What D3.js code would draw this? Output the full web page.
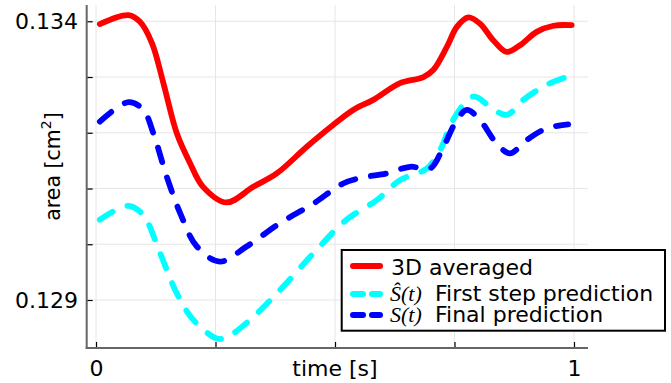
<!DOCTYPE html>
<html><head><meta charset="utf-8">
<script src="https://cdn.jsdelivr.net/npm/d3@7/dist/d3.min.js"></script>
<style>body{margin:0;background:#fff}svg{display:block}</style>
</head><body>
<script>
// ---- data ----
const redTime = [0.008,0.068,0.092,0.117,0.141,0.169,0.197,0.224,0.273,0.329,0.378,0.441,0.496,0.538,0.580,0.636,0.685,0.706,0.734,0.755,0.779,0.803,0.831,0.859,0.887,0.922,0.957,0.995];
const redArea = [0.13395,0.13411,0.13399,0.13361,0.13289,0.13199,0.13145,0.13103,0.13075,0.13103,0.13127,0.13175,0.13214,0.13241,0.13259,0.13289,0.13300,0.13313,0.13354,0.13390,0.13407,0.13396,0.13366,0.13345,0.13357,0.13381,0.13392,0.13393];

const cyanTime = [0.008,0.068,0.099,0.134,0.169,0.204,0.253,0.273,0.322,0.385,0.455,0.524,0.587,0.636,0.692,0.720,0.747,0.789,0.824,0.859,0.894,0.943,0.985];
const cyanArea = [0.13044,0.13069,0.13052,0.12984,0.12912,0.12864,0.12831,0.12833,0.12864,0.12918,0.12984,0.13044,0.13079,0.13115,0.13136,0.13169,0.13223,0.13265,0.13247,0.13232,0.13259,0.13286,0.13300];

const blueTime = [0.008,0.068,0.099,0.120,0.148,0.176,0.211,0.259,0.315,0.385,0.455,0.517,0.559,0.608,0.657,0.699,0.727,0.755,0.776,0.803,0.838,0.866,0.901,0.943,0.988];
const blueArea = [0.13220,0.13255,0.13241,0.13199,0.13121,0.13056,0.12996,0.12969,0.12996,0.13038,0.13073,0.13109,0.13120,0.13127,0.13139,0.13136,0.13175,0.13223,0.13241,0.13223,0.13181,0.13163,0.13187,0.13208,0.13215];

const xTicks = [0, 0.25, 0.5, 0.75, 1];
const xTickLabels = ["0", "", "", "", "1"];
const yTicks = [0.129, 0.130, 0.131, 0.132, 0.133, 0.134];
const yTickLabels = ["0.129", "", "", "", "", "0.134"];
const legendLabels = ["3D averaged", "First step prediction", "Final prediction"];
const legendSymbols = ["", "\u015C(t)", "S(t)"];

// ---- layout ----
const W = 671, H = 383;
const L = 86.7, R = 588, T = 5, B = 348;
const font = "'DejaVu Sans', sans-serif";

const x = d3.scaleLinear().domain([-0.0195, 1.0293]).range([L, R]);
const y = d3.scaleLinear().domain([0.128139, 0.134292]).range([B, T]);

const svg = d3.select("body").append("svg").attr("width", W).attr("height", H);

// grid
svg.append("g").selectAll("line").data(xTicks).join("line")
  .attr("x1", d => x(d)).attr("x2", d => x(d)).attr("y1", T).attr("y2", B)
  .attr("stroke", "#e6e6e6").attr("stroke-width", 1);
svg.append("g").selectAll("line").data(yTicks).join("line")
  .attr("x1", L).attr("x2", R).attr("y1", d => y(d)).attr("y2", d => y(d))
  .attr("stroke", "#e6e6e6").attr("stroke-width", 1);

// axes
const xAxis = d3.axisBottom(x).tickValues(xTicks).tickSizeInner(-6).tickSizeOuter(0)
  .tickFormat((d, i) => xTickLabels[i]);
const gx = svg.append("g").attr("transform", `translate(0,${B})`).call(xAxis);
gx.select(".domain").remove();
gx.selectAll(".tick line").attr("stroke", "#000").attr("stroke-width", 1.2);
gx.selectAll(".tick text").attr("font-family", font).attr("font-size", 22).attr("fill", "#000")
  .attr("dy", null).attr("y", 28);

const yAxis = d3.axisLeft(y).tickValues(yTicks).tickSizeInner(-6).tickSizeOuter(0)
  .tickFormat((d, i) => yTickLabels[i]);
const gy = svg.append("g").attr("transform", `translate(${L},0)`).call(yAxis);
gy.select(".domain").remove();
gy.selectAll(".tick line").attr("stroke", "#000").attr("stroke-width", 1.2);
gy.selectAll(".tick text").attr("font-family", font).attr("font-size", 22).attr("fill", "#000")
  .attr("x", 78 - L).attr("dy", "0.34em").attr("text-anchor", "end");

svg.append("line").attr("x1", L).attr("x2", L).attr("y1", T).attr("y2", B + 1)
  .attr("stroke", "#666").attr("stroke-width", 2);
svg.append("line").attr("x1", L - 1).attr("x2", R).attr("y1", B).attr("y2", B)
  .attr("stroke", "#666").attr("stroke-width", 2);

// axis labels
svg.append("text").attr("x", x(0.5)).attr("y", 376).attr("text-anchor", "middle")
  .attr("font-family", font).attr("font-size", 22).text("time [s]");
const yl = svg.append("text").attr("transform", `translate(59.5,166.5) rotate(-90)`)
  .attr("text-anchor", "middle").attr("font-family", font).attr("font-size", 20.5);
yl.append("tspan").text("area [cm");
yl.append("tspan").attr("font-size", 14).attr("dy", -9).text("2");
yl.append("tspan").attr("dy", 9).text("]");

// lines
const line = d3.line().x(d => x(d[0])).y(d => y(d[1])).curve(d3.curveCatmullRom.alpha(0.5));
const series = [
  {t: redTime, v: redArea, color: "#ff0000", dash: null},
  {t: cyanTime, v: cyanArea, color: "#00ffff", dash: "15,16"},
  {t: blueTime, v: blueArea, color: "#0000ff", dash: "15,16"}
];
series.forEach(s => {
  svg.append("path").datum(s.t.map((t, i) => [t, s.v[i]]))
    .attr("d", line).attr("fill", "none").attr("stroke", s.color)
    .attr("stroke-width", 5.8).attr("stroke-linecap", "round").attr("stroke-linejoin", "round")
    .attr("stroke-dasharray", s.dash);
});

// legend
const lg = svg.append("g");
lg.append("rect").attr("x", 341.7).attr("y", 250).attr("width", 323.3).attr("height", 80.7)
  .attr("fill", "#fff").attr("stroke", "#000").attr("stroke-width", 2);
const rows = [
  {ly: 266, ty: 274.5, color: "#ff0000", dash: null},
  {ly: 294, ty: 300.5, color: "#00ffff", dash: "10,9"},
  {ly: 315, ty: 321.5, color: "#0000ff", dash: "10,9"}
];
rows.forEach((r, i) => {
  lg.append("line").attr("x1", 353).attr("x2", 380).attr("y1", r.ly).attr("y2", r.ly)
    .attr("stroke", r.color).attr("stroke-width", 6).attr("stroke-linecap", "round")
    .attr("stroke-dasharray", r.dash);
  if (i === 0) {
    lg.append("text").attr("x", 391).attr("y", r.ty).attr("font-family", font)
      .attr("font-size", 22).text(legendLabels[i]);
  } else {
    lg.append("text").attr("x", 390).attr("y", r.ty)
      .attr("font-family", "'Liberation Serif', serif").attr("font-style", "italic")
      .attr("font-size", 22).text(legendSymbols[i]);
    lg.append("text").attr("x", 435).attr("y", r.ty).attr("font-family", font)
      .attr("font-size", 22).text(legendLabels[i]);
  }
});
</script>
</body></html>
